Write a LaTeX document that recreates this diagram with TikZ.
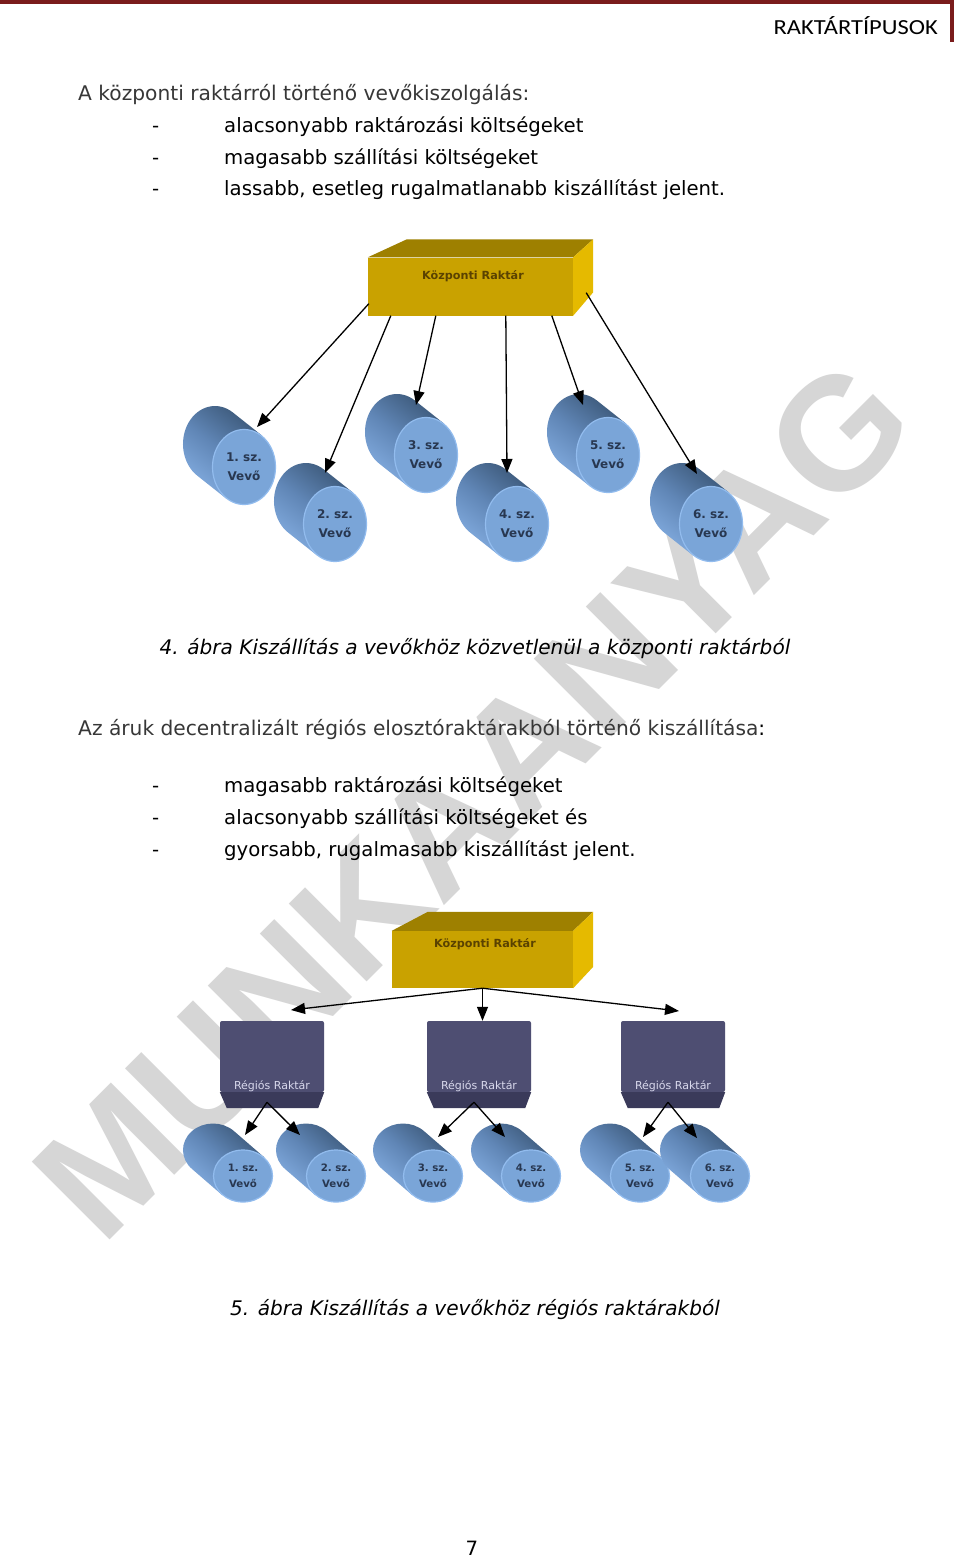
\documentclass[tikz,border=0pt]{standalone}
\usepackage{fontspec}
\setmainfont{DejaVu Sans}
\newfontfamily\hdrfont{Carlito}
\newfontfamily\wmfont{Liberation Sans}
\usetikzlibrary{arrows.meta,calc}

\definecolor{maroonline}{RGB}{122,28,28}
\definecolor{wmgray}{RGB}{214,214,214}
\definecolor{headgray}{RGB}{55,55,55}
\definecolor{goldfront}{RGB}{201,162,0}
\definecolor{goldtop}{RGB}{158,128,0}
\definecolor{goldside}{RGB}{229,186,0}
\definecolor{goldtext}{RGB}{90,66,0}
\definecolor{regfront}{RGB}{78,78,114}
\definecolor{regband}{RGB}{58,58,90}
\definecolor{regtext}{RGB}{216,216,236}
\definecolor{cyldark}{RGB}{58,86,118}
\definecolor{cylmid}{RGB}{96,134,182}
\definecolor{cyllight}{RGB}{132,174,226}
\definecolor{facecol}{RGB}{122,165,216}
\definecolor{facerim}{RGB}{146,188,238}
\definecolor{cyltext}{RGB}{40,55,80}

\tikzset{
  bodytxt/.style={anchor=base west, inner sep=0pt, font=\fontsize{19.7}{24}\selectfont},
  headtxt/.style={anchor=base west, inner sep=0pt, font=\fontsize{20.2}{24}\selectfont},
  captxt/.style={anchor=base, inner sep=0pt, font=\itshape\fontsize{20.1}{24}\selectfont},
  arr/.style={-{Triangle[length=14pt,width=11pt]}, line width=1.3pt, black},
  goldbox/.style={fill=goldfront, draw=none, inner sep=0pt},
  goldlbl/.style={inner sep=0pt, text=goldtext, font=\bfseries\fontsize{11.2}{14}\selectfont},
  regbox/.style={fill=regfront, draw=none, inner sep=0pt, rounded corners=2pt, minimum width=104pt, minimum height=71pt},
  reglbl/.style={anchor=base, inner sep=0pt, text=regtext, font=\fontsize{11}{13}\selectfont},
  cyltxtA/.style={inner sep=0pt, align=center, text=cyltext, font=\bfseries\fontsize{12}{19}\selectfont},
  cyltxtB/.style={inner sep=0pt, align=center, text=cyltext, font=\bfseries\fontsize{10.2}{16}\selectfont},
  cylbodyA/.style={top color=cyldark, bottom color=cyllight, middle color=cylmid, shading angle=-38},
  cylbodyB/.style={top color=cyldark, bottom color=cyllight, middle color=cylmid, shading angle=-41},
  cylface/.style={fill=facecol, draw=facerim, line width=1.2pt}
}

\newcommand{\cylA}[4]{%
  \shade[cylbodyA] (#2+17.75,#3-31.6) -- ++(-29,-23)
     arc[start angle=-56.3, end angle=-236.3, x radius=32, y radius=38]
     -- (#2-17.75,#3+31.6) -- cycle;
  \path[cylface] (#2,#3) ellipse [x radius=31.5, y radius=37.5];
  \node[cyltxtA] (#1) at (#2,#3) {#4.~sz.\\Vevő};
}
\newcommand{\cylB}[4]{%
  \shade[cylbodyB] (#2+21,#3-18.9) -- ++(-30,-26)
     arc[start angle=-45.55, end angle=-225.55, x radius=30, y radius=26.5]
     -- (#2-21,#3+18.9) -- cycle;
  \path[cylface] (#2,#3) ellipse [x radius=29.5, y radius=26];
  \node[cyltxtB] (#1) at (#2,#3) {#4.~sz.\\Vevő};
}

\begin{document}
\begin{tikzpicture}[x=1pt,y=-1pt]
\useasboundingbox (0,0) rectangle (960,1558);
\fill[white] (0,0) rectangle (960,1558);

% watermark
\node[rotate=45, inner sep=0pt, text=wmgray, font=\wmfont\bfseries\fontsize{160}{160}\selectfont] (wm) at (473,799) {MUNKAANYAG};

% header
\draw[maroonline, line width=3.5pt] (0,2) -- (952,2) -- (952,42);
\node[anchor=base east, inner sep=0pt, xscale=1.14, font=\hdrfont\fontsize{21.5}{21}\selectfont] (hdr) at (938,34) {RAKTÁRTÍPUSOK};

% first text block
\node[headtxt, text=headgray] (h1) at (78,100) {A központi raktárról történő vevőkiszolgálás:};
\node[bodytxt] (da1) at (152,132) {-};
\node[bodytxt] (la1) at (224,132) {alacsonyabb raktározási költségeket};
\node[bodytxt] (da2) at (152,164) {-};
\node[bodytxt] (la2) at (224,164) {magasabb szállítási költségeket};
\node[bodytxt] (da3) at (152,195) {-};
\node[bodytxt] (la3) at (224,195) {lassabb, esetleg rugalmatlanabb kiszállítást jelent.};

% ---------- diagram 1 ----------
\node[goldbox, minimum width=205pt, minimum height=58pt] (kr1) at (470.5,286.5) {};
\fill[goldtop] (kr1.north west) -- ++(39,-18) -- ($(kr1.north east)+(20,-18)$) -- (kr1.north east) -- cycle;
\fill[goldside] (kr1.north east) -- ++(20,-18) -- ++(0,53) -- (kr1.south east) -- cycle;
\node[goldlbl] (kr1t) at ($(kr1.center)+(2.5,-10.5)$) {Központi Raktár};

\cylA{v1}{244}{467}{1}
\cylA{v3}{426}{455}{3}
\cylA{v5}{608}{455}{5}
\cylA{v2}{335}{524}{2}
\cylA{v4}{517}{524}{4}
\cylA{v6}{711}{524}{6}

\coordinate (v1in) at (257,427);
\coordinate (v2in) at (325,473);
\coordinate (v3in) at (416,405);
\coordinate (v4in) at (507,473);
\coordinate (v5in) at (583,405);
\coordinate (v6in) at (697,474);

\draw[arr] ($(kr1.south west)+(1,-12)$) -- (v1in);
\draw[arr] ($(kr1.south west)+(23,0)$) -- (v2in);
\draw[arr] ($(kr1.south west)+(68,0)$) -- (v3in);
\draw[arr] ($(kr1.south west)+(138,0)$) -- (v4in);
\draw[arr] ($(kr1.south west)+(184,0)$) -- (v5in);
\draw[arr] ($(kr1.south east)+(13,-23)$) -- (v6in);

\node[captxt] (cap1) at (475,654) {4. ábra Kiszállítás a vevőkhöz közvetlenül a központi raktárból};

% second text block
\node[headtxt] (h2) at (78,735) {\textcolor{headgray}{Az áruk decentralizált régiós elosztóraktárakból történő kiszállítása}:};
\node[bodytxt] (db1) at (152,792) {-};
\node[bodytxt] (lb1) at (224,792) {magasabb raktározási költségeket};
\node[bodytxt] (db2) at (152,824) {-};
\node[bodytxt] (lb2) at (224,824) {alacsonyabb szállítási költségeket és};
\node[bodytxt] (db3) at (152,856) {-};
\node[bodytxt] (lb3) at (224,856) {gyorsabb, rugalmasabb kiszállítást jelent.};

% ---------- diagram 2 ----------
\node[goldbox, minimum width=181pt, minimum height=57pt] (kr2) at (482.5,959.5) {};
\fill[goldtop] (kr2.north west) -- ++(36,-19) -- ($(kr2.north east)+(20,-19)$) -- (kr2.north east) -- cycle;
\fill[goldside] (kr2.north east) -- ++(20,-19) -- ++(0,55) -- (kr2.south east) -- cycle;
\node[goldlbl] (kr2t) at ($(kr2.center)+(2.5,-15.5)$) {Központi Raktár};

\foreach \n/\cx in {1/272,2/479,3/673}{
  \node[regbox] (rb\n) at (\cx,1056.5) {};
  \node[reglbl] (rb\n t) at ($(rb\n.south)+(0,-3)$) {Régiós Raktár};
  \fill[regband] (rb\n.south west) -- (rb\n.south east) -- ++(-6,16) -- ($(rb\n.south west)+(7,16)$) -- cycle;
}

\coordinate (rb1in) at (291,1010);
\coordinate (rb3in) at (679,1011);
\draw[arr] (kr2.south) -- (rb1in);
\draw[arr] (kr2.south) -- (kr2.south |- rb2.north);
\draw[arr] (kr2.south) -- (rb3in);

\cylB{w1}{243}{1176}{1}
\cylB{w2}{336}{1176}{2}
\cylB{w3}{433}{1176}{3}
\cylB{w4}{531}{1176}{4}
\cylB{w5}{640}{1176}{5}
\cylB{w6}{720}{1176}{6}

\coordinate (w1in) at (245,1135);
\coordinate (w2in) at (300,1135);
\coordinate (w3in) at (438,1137);
\coordinate (w4in) at (505,1137);
\coordinate (w5in) at (643,1137);
\coordinate (w6in) at (697,1138);

\draw[arr] ($(rb1.south)+(-5,10)$) -- (w1in);
\draw[arr] ($(rb1.south)+(-5,10)$) -- (w2in);
\draw[arr] ($(rb2.south)+(-5,10)$) -- (w3in);
\draw[arr] ($(rb2.south)+(-5,10)$) -- (w4in);
\draw[arr] ($(rb3.south)+(-5,10)$) -- (w5in);
\draw[arr] ($(rb3.south)+(-5,10)$) -- (w6in);

\node[captxt] (cap2) at (475,1315) {5. ábra Kiszállítás a vevőkhöz régiós raktárakból};

\node[anchor=base, inner sep=0pt, font=\fontsize{19.7}{24}\selectfont] (pg) at (472,1555) {7};
\end{tikzpicture}
\end{document}
